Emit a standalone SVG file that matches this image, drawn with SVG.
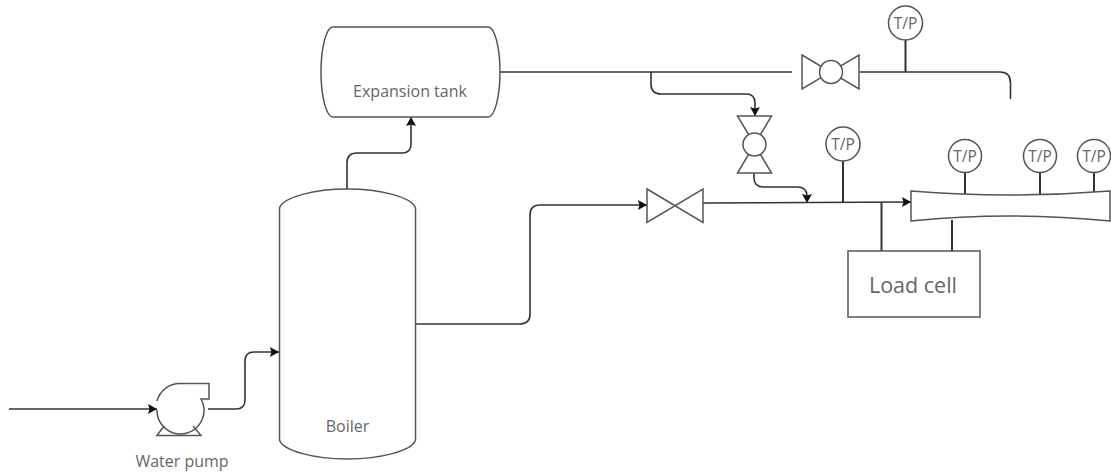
<svg xmlns="http://www.w3.org/2000/svg" width="1111" height="475" viewBox="0 0 1111 475">
<defs>
<marker id="a" markerUnits="userSpaceOnUse" markerWidth="11" markerHeight="11" refX="9" refY="5" orient="auto"><path d="M0 0L9 5L0 10L1.500 5Z" fill="#111"/></marker>
</defs>
<style>
.s{fill:#fff;stroke:#555;stroke-width:1.5}
.n{fill:none;stroke:#555;stroke-width:1.5}
.c{fill:none;stroke:#333;stroke-width:1.600}
.b{fill:none;stroke:#333;stroke-width:2}
.t{font-family:"Open Sans","Noto Sans",sans-serif;fill:#666;text-anchor:middle}
.l{font-size:16px}
.tp{font-size:15.500px}
</style>
<rect width="1111" height="475" fill="#fff"/>
<g id="connectors">
<path class="c" marker-end="url(#a)" d="M9 409H157"/>
<path class="c" marker-end="url(#a)" d="M208 409H236Q245 409 245 400V361Q245 352 254 352H279"/>
<path class="c" marker-end="url(#a)" d="M347 189V163Q347 153 357 153H402Q411 153 411 144V117"/>
<path class="c" marker-end="url(#a)" d="M415 324H520Q530 324 530 314V215Q530 205 540 205H647"/>
<path class="c" d="M500 72H792"/>
<path class="c" marker-end="url(#a)" d="M651 72V84Q651 94 661 94H746Q755 94 755 103V116"/>
<path class="c" marker-end="url(#a)" d="M754 173V178Q754 187 764 187H797Q807 187 807 196V203"/>
<path class="c" marker-end="url(#a)" d="M703 203L911 202"/>
<path class="c" d="M860 72H1000Q1010.500 72 1010.500 83V99"/>
<path class="b" d="M905.500 40V72"/>
<path class="b" d="M843 161V203"/>
<path class="b" d="M881.500 203V251"/>
<path class="b" d="M952 220V251"/>
<path class="b" d="M965 172V194"/>
<path class="b" d="M1040 172V194"/>
<path class="b" d="M1094 172V193"/>
</g>
<g id="water-pump">
<path class="n" d="M157 401A23.500 23.500 0 0 1 180 383.500H209V399H201A23.500 23.500 0 1 1 157 410"/>
<path class="n" d="M164 426L157 435.500H201L193 426"/>
<text class="t l" x="182" y="467">Water pump</text>
</g>
<g id="boiler">
<path class="s" d="M279.500 208C283 197 315 189 347 189C380 189 412 197 415.500 208V440C412 451 380 459 347 459C315 459 283 451 279.500 440Z"/>
<text class="t l" x="347.500" y="432">Boiler</text>
</g>
<g id="expansion-tank">
<path class="s" d="M333 27H488A12 45 0 0 1 488 117H333A12 45 0 0 1 333 27Z"/>
<text class="t l" x="410" y="97">Expansion tank</text>
</g>
<g id="valve-1">
<path class="s" d="M647 189L703 222.500V189L647 222.500Z"/>
</g>
<g id="valve-2">
<path class="s" d="M802 55L859 89V55L802 89Z"/>
<circle class="s" cx="831" cy="72" r="11.500"/>
</g>
<g id="valve-3">
<path class="s" d="M737.500 116H771.500L737.500 173H771.500Z"/>
<circle class="s" cx="754.500" cy="144.500" r="11.500"/>
</g>
<g id="nozzle">
<path class="s" d="M911 191Q1010 199 1110 191V221Q1010 211 911 221Z"/>
</g>
<g id="load-cell">
<rect class="s" x="848" y="251" width="132" height="66"/>
<text class="t" x="913" y="293" font-size="21.500">Load cell</text>
</g>
<g id="tp-1"><circle class="s" cx="905.500" cy="23" r="17"/><text class="t tp" x="905.500" y="29">T/P</text></g>
<g id="tp-2"><circle class="s" cx="843" cy="144" r="17"/><text class="t tp" x="843" y="150">T/P</text></g>
<g id="tp-3"><circle class="s" cx="965" cy="156" r="16.500"/><text class="t tp" x="965" y="162">T/P</text></g>
<g id="tp-4"><circle class="s" cx="1040" cy="156" r="16.500"/><text class="t tp" x="1040" y="162">T/P</text></g>
<g id="tp-5"><circle class="s" cx="1094" cy="156" r="16.500"/><text class="t tp" x="1094" y="162">T/P</text></g>
</svg>
